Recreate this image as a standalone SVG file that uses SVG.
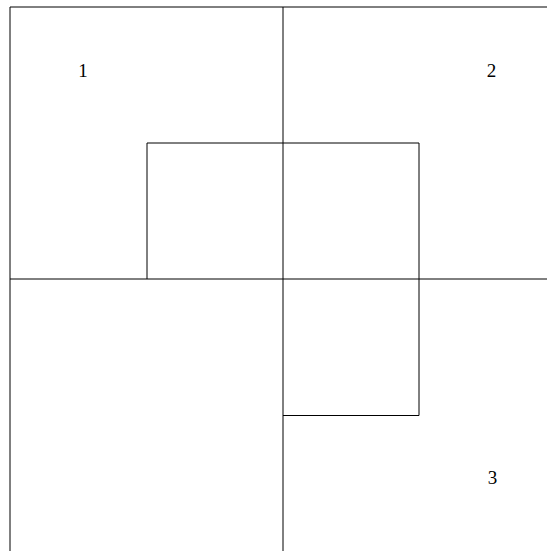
<svg xmlns="http://www.w3.org/2000/svg" width="547" height="551" viewBox="0 0 547 551">
<style>
.ln{stroke:#000;stroke-width:1;fill:none}
.lb{font-family:"Liberation Serif","DejaVu Serif",serif;font-size:19px;fill:#000;text-anchor:middle}
</style>
<rect width="547" height="551" fill="#fff"/>
<g id="grid" class="ln">
<line x1="10" y1="7" x2="547" y2="7"/>
<line x1="10" y1="7" x2="10" y2="551"/>
<line x1="283" y1="7" x2="283" y2="551"/>
<line x1="10" y1="279" x2="547" y2="279"/>
</g>
<g id="square" class="ln">
<path d="M147,279 V143 H419 V415.5 H283"/>
</g>
<g id="labels">
<text class="lb" x="83" y="77">1</text>
<text class="lb" x="491.5" y="77">2</text>
<text class="lb" x="492.5" y="484">3</text>
</g>
</svg>
